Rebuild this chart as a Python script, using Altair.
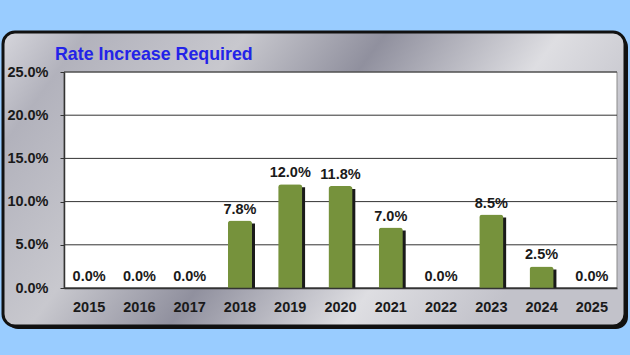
import altair as alt
import pandas as pd

# ---- data ----
years = ["2015", "2016", "2017", "2018", "2019", "2020", "2021", "2022", "2023", "2024", "2025"]
rates = [0.0, 0.0, 0.0, 0.078, 0.120, 0.118, 0.070, 0.0, 0.085, 0.025, 0.0]
y_ticks = [0.0, 0.05, 0.10, 0.15, 0.20, 0.25]
title_text = "Rate Increase Required"

df = pd.DataFrame({"year": years, "rate": rates})
grid_df = pd.DataFrame({"rate": y_ticks})
one = pd.DataFrame({"k": [0]})

W, H = 553, 216
FONT = "Liberation Sans"
TXT = "#1a1a1a"

x_scale = alt.Scale(domain=years, paddingInner=0.52, paddingOuter=0.26)
y_scale = alt.Scale(domain=[0, 0.25], nice=False, zero=True)

panel_grad = alt.LinearGradient(
    gradient="linear",
    x1=0, y1=0, x2=1, y2=0.35,
    stops=[
        alt.GradientStop(offset=0.0, color="#d6d6dc"),
        alt.GradientStop(offset=0.12, color="#b2b2bc"),
        alt.GradientStop(offset=0.35, color="#c8c8ce"),
        alt.GradientStop(offset=0.55, color="#90909e"),
        alt.GradientStop(offset=0.8, color="#dedee2"),
        alt.GradientStop(offset=1.0, color="#c2c2ca"),
    ],
)

panel_shadow = alt.Chart(one).mark_rect(fill="#111111", cornerRadius=12).encode(
    x=alt.value(-58), x2=alt.value(564), y=alt.value(-37), y2=alt.value(257)
)
panel = alt.Chart(one).mark_rect(
    fill=panel_grad, stroke="#111111", strokeWidth=3, cornerRadius=12
).encode(x=alt.value(-61), x2=alt.value(561), y=alt.value(-40), y2=alt.value(254))

plot_bg = alt.Chart(one).mark_rect(fill="white", stroke="#8a8a8a", strokeWidth=1).encode(
    x=alt.value(0), x2=alt.value(W), y=alt.value(0), y2=alt.value(H)
)

y_axis = alt.Axis(
    title=None, format=".1%", values=y_ticks, grid=False, tickSize=4,
    tickColor="#333333", domainColor="#333333", domainWidth=1.5, labelPadding=12,
    labelFont=FONT, labelFontSize=14.5, labelFontWeight="bold", labelColor=TXT,
    zindex=1,
)

grid = alt.Chart(grid_df).mark_rule(color="#333333", strokeWidth=1).encode(
    y=alt.Y("rate:Q", scale=y_scale, axis=y_axis)
)

x_enc = alt.X(
    "year:N", scale=x_scale, sort=years,
    axis=alt.Axis(
        title=None, labelAngle=0, ticks=False, labelPadding=12,
        labelFont=FONT, labelFontSize=14.5, labelFontWeight="bold", labelColor=TXT,
        domainColor="#333333", domainWidth=1.5, zindex=1,
    ),
)
y_enc = alt.Y("rate:Q", scale=y_scale, axis=y_axis)

bar_shadow = alt.Chart(df).transform_filter("datum.rate > 0").mark_bar(
    color="#1a1a1a", xOffset=3, yOffset=3, cornerRadiusTopRight=3
).encode(x=x_enc, y=y_enc)

bars = alt.Chart(df).mark_bar(
    color="#76923C", cornerRadiusTopLeft=3, cornerRadiusTopRight=3
).encode(x=x_enc, y=y_enc)

labels = alt.Chart(df).mark_text(
    dy=-7, baseline="alphabetic", font=FONT, fontSize=14.5, fontWeight="bold", color=TXT
).encode(x=x_enc, y=y_enc, text=alt.Text("rate:Q", format=".1%"))

title = alt.Chart(one).mark_text(
    text=title_text, align="left", baseline="alphabetic",
    font=FONT, fontSize=17.8, fontWeight="bold", color="#2323E8",
).encode(x=alt.value(-9), y=alt.value(-12))

chart = alt.layer(
    panel_shadow, panel, plot_bg, grid, bar_shadow, bars, labels, title
).properties(
    width=W, height=H,
    background="#99CCFF",
    padding={"left": 64, "top": 72, "right": 13, "bottom": 67},
    autosize=alt.AutoSizeParams(type="none"),
).configure_view(stroke=None)

chart.save("out.html", embed_options={"renderer": "svg", "actions": False})
